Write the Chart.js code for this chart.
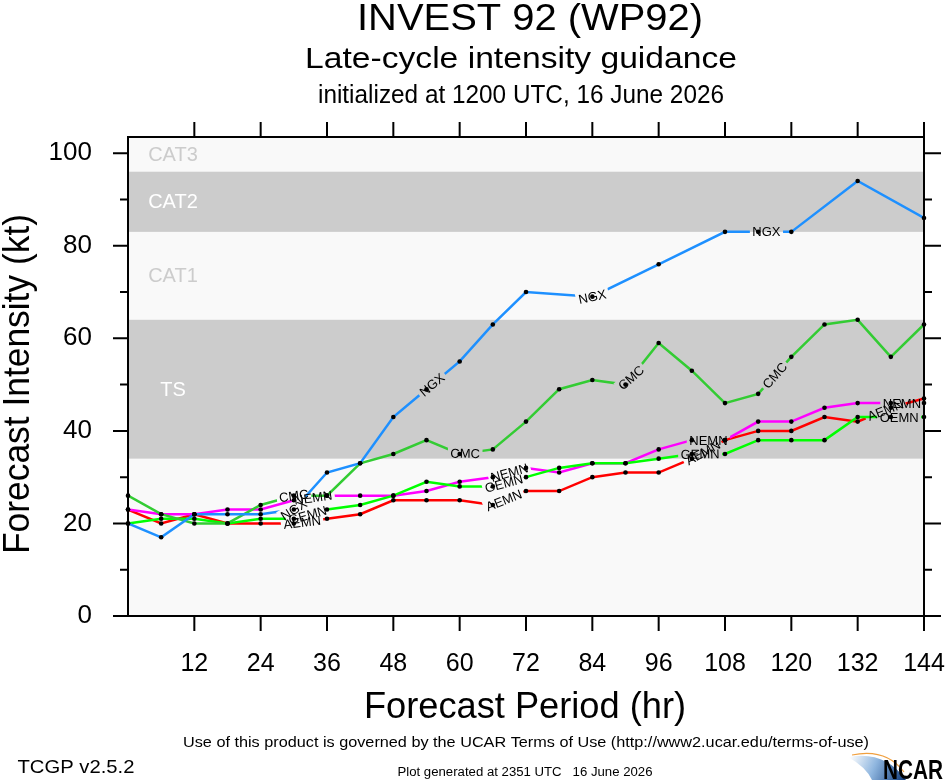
<!DOCTYPE html>
<html>
<head>
<meta charset="utf-8">
<script src="https://cdn.jsdelivr.net/npm/chart.js@4.4.1/dist/chart.umd.min.js"></script>
<style>
  html, body { margin: 0; padding: 0; background: #fff; }
  canvas { display: block; }
</style>
</head>
<body>
<canvas id="intensityChart" width="946" height="780"></canvas>
<script>
// forecast hours and intensity (kt) per model
const hours = [0, 6, 12, 18, 24, 30, 36, 42, 48, 54, 60, 66, 72, 78, 84, 90, 96, 102, 108, 114, 120, 126, 132, 138, 144];
const ngx  = [20, 17, 22, 22, 22, 23, 31, 33, 43, 49, 55, 63, 70, null, 69, null, 76, null, 83, 83, 83, null, 94, null, 86];
const cmc  = [26, 22, 20, 20, 24, 26, 26, 33, 35, 38, 35, 36, 42, 49, 51, 50, 59, 53, 46, 48, 56, 63, 64, 56, 63];
const gemn = [20, 21, 21, 20, 21, 21, 23, 24, 26, 29, 28, 28, 30, 32, 33, 33, 34, 35, 35, 38, 38, 38, 43, 43, 43];
const nemn = [23, 22, 22, 23, 23, 25, 26, 26, 26, 27, 29, 30, 32, 31, 33, 33, 36, 38, 38, 42, 42, 45, 46, 46, 46];
const aemn = [23, 20, 22, 20, 20, 20, 21, 22, 25, 25, 25, 24, 27, 27, 30, 31, 31, 34, 38, 40, 40, 43, 42, 45, 47];

// where each model name is written along its line: [hour, text]
const ngxTags  = [[30, 'NGX'], [55, 'NGX'], [84, 'NGX'], [115.5, 'NGX']];
const cmcTags  = [[30, 'CMC'], [61, 'CMC'], [91, 'CMC'], [117, 'CMC']];
const gemnTags = [[32.5, 'GEMN'], [68, 'GEMN'], [103.5, 'GEMN'], [139.5, 'OEMN']];
const nemnTags = [[33.5, 'NEMN'], [69, 'NEMN'], [105, 'NEMN'], [140, 'NEMN']];
const aemnTags = [[31.5, 'AEMN'], [68, 'AEMN'], [104, 'AEMN'], [137, 'AEMN']];

// axes and intensity categories
const xTicks = [12, 24, 36, 48, 60, 72, 84, 96, 108, 120, 132, 144];
const yTicks = [0, 20, 40, 60, 80, 100];
const yMinor = [10, 30, 50, 70, 90];
const yMax = 103.5;
const bandEdges = [34, 64, 83, 96, yMax];
const bandNames = ['TS', 'CAT1', 'CAT2', 'CAT3'];
const bandShaded = [true, false, true, false];

const FONT = '"Liberation Sans", Arial, Helvetica, sans-serif';
const TAG_FONT = '13px ' + FONT;

function toPoints(vals) {
    return hours.map((h, i) => ({ x: h, y: vals[i] }));
}

// y of the drawn polyline at pixel x
function lineYAt(pts, px) {
    if (px <= pts[0].x) return pts[0].y;
    for (let k = 0; k < pts.length - 1; k++) {
        const a = pts[k], b = pts[k + 1];
        if (px >= a.x && px <= b.x) return a.y + (b.y - a.y) * (px - a.x) / (b.x - a.x);
    }
    return pts[pts.length - 1].y;
}

function tagGeom(chart, di, h) {
    const pts = chart.getDatasetMeta(di).data.filter(p => !p.skip);
    const px = chart.scales.x.getPixelForValue(h);
    const py = lineYAt(pts, px);
    const yl = lineYAt(pts, px - 12), yr = lineYAt(pts, px + 12);
    return { x: px, y: py, ang: Math.atan2(yr - yl, 24) };
}

// bands behind the lines
const bandPlugin = {
    id: 'bands',
    beforeDatasetsDraw(chart) {
        const { ctx, chartArea: a, scales: { y } } = chart;
        ctx.save();
        ctx.fillStyle = '#f9f9f9';
        ctx.fillRect(a.left, a.top, a.right - a.left, a.bottom - a.top);
        ctx.font = '20px ' + FONT;
        ctx.textAlign = 'center';
        ctx.textBaseline = 'middle';
        for (let i = 0; i < bandNames.length; i++) {
            const y0 = y.getPixelForValue(bandEdges[i + 1]);
            const y1 = y.getPixelForValue(bandEdges[i]);
            if (bandShaded[i]) {
                ctx.fillStyle = '#cccccc';
                ctx.fillRect(a.left, y0, a.right - a.left, y1 - y0);
            }
            ctx.fillStyle = bandShaded[i] ? '#ffffff' : '#cccccc';
            ctx.fillText(bandNames[i], a.left + 45, (y0 + y1) / 2 + 1);
        }
        ctx.restore();
    }
};

// cut a gap in each line where its name goes, then write names and dots
const tagPlugin = {
    id: 'tags',
    beforeDatasetDraw(chart, args) {
        const ds = chart.data.datasets[args.index];
        const ctx = chart.ctx;
        ctx.save();
        ctx.beginPath();
        ctx.rect(0, 0, chart.width, chart.height);
        ctx.font = TAG_FONT;
        for (const [h, txt] of ds.tags) {
            const g = tagGeom(chart, args.index, h);
            const w = ctx.measureText(txt).width + 5, ht = 14;
            const c = Math.cos(g.ang), s = Math.sin(g.ang);
            const pts = [[-w / 2, -ht / 2], [w / 2, -ht / 2], [w / 2, ht / 2], [-w / 2, ht / 2]]
                .map(([u, v]) => [g.x + u * c - v * s, g.y + u * s + v * c]);
            ctx.moveTo(pts[0][0], pts[0][1]);
            for (let k = 1; k < 4; k++) ctx.lineTo(pts[k][0], pts[k][1]);
            ctx.closePath();
        }
        ctx.clip('evenodd');
    },
    afterDatasetDraw(chart) {
        chart.ctx.restore();
    },
    afterDatasetsDraw(chart) {
        const ctx = chart.ctx;
        ctx.save();
        ctx.font = TAG_FONT;
        ctx.fillStyle = '#000';
        ctx.textAlign = 'center';
        ctx.textBaseline = 'middle';
        chart.data.datasets.forEach((ds, di) => {
            for (const [h, txt] of ds.tags) {
                const g = tagGeom(chart, di, h);
                ctx.save();
                ctx.translate(g.x, g.y);
                ctx.rotate(g.ang);
                ctx.fillText(txt, 0, 1);
                ctx.restore();
            }
        });
        chart.data.datasets.forEach((ds, di) => {
            chart.getDatasetMeta(di).data.forEach(p => {
                if (p.skip) return;
                ctx.beginPath();
                ctx.arc(p.x, p.y, 2.3, 0, Math.PI * 2);
                ctx.fill();
            });
        });
        ctx.restore();
    }
};

// frame and tick marks
const framePlugin = {
    id: 'frame',
    afterDatasetsDraw(chart) {
        const { ctx, chartArea: a, scales: { x, y } } = chart;
        ctx.save();
        ctx.strokeStyle = '#000';
        ctx.lineWidth = 2;
        ctx.strokeRect(a.left, a.top, a.right - a.left, a.bottom - a.top);
        ctx.beginPath();
        yTicks.forEach(v => {
            const py = y.getPixelForValue(v);
            ctx.moveTo(a.left - 15, py); ctx.lineTo(a.left, py);
            ctx.moveTo(a.right, py); ctx.lineTo(a.right + 17, py);
        });
        yMinor.forEach(v => {
            const py = y.getPixelForValue(v);
            ctx.moveTo(a.left - 8, py); ctx.lineTo(a.left, py);
            ctx.moveTo(a.right, py); ctx.lineTo(a.right + 8, py);
        });
        xTicks.forEach(v => {
            const px = x.getPixelForValue(v);
            ctx.moveTo(px, a.bottom); ctx.lineTo(px, a.bottom + 15);
            ctx.moveTo(px, a.top); ctx.lineTo(px, a.top - 15);
        });
        ctx.stroke();
        ctx.restore();
    }
};

// draw text squeezed/stretched to a measured width
function fitText(ctx, text, cx, by, size, width, opt) {
    opt = opt || {};
    ctx.save();
    ctx.font = (opt.bold ? 'bold ' : '') + size + 'px ' + FONT;
    const w = ctx.measureText(text).width;
    ctx.translate(cx, by);
    if (opt.rot) ctx.rotate(opt.rot);
    ctx.scale(width / w, 1);
    ctx.textAlign = 'center';
    ctx.textBaseline = 'alphabetic';
    ctx.fillStyle = opt.color || '#000';
    ctx.fillText(text, 0, 0);
    ctx.restore();
}

const textPlugin = {
    id: 'texts',
    afterDraw(chart) {
        const ctx = chart.ctx;
        fitText(ctx, 'INVEST 92 (WP92)', 530, 30, 36, 346);
        fitText(ctx, 'Late-cycle intensity guidance', 521, 68, 30, 432);
        fitText(ctx, 'initialized at 1200 UTC, 16 June 2026', 521, 103, 25, 406);
        fitText(ctx, 'Forecast Intensity (kt)', 29, 384, 36, 340, { rot: -Math.PI / 2 });
        fitText(ctx, 'Forecast Period (hr)', 525, 718, 36, 322);
        fitText(ctx, 'Use of this product is governed by the UCAR Terms of Use (http://www2.ucar.edu/terms-of-use)', 526, 747, 15, 686);
        fitText(ctx, 'TCGP v2.5.2', 76, 773, 19, 117);
        fitText(ctx, 'Plot generated at 2351 UTC   16 June 2026', 525, 776, 12.5, 255);

        // NCAR logo
        ctx.save();
        const grad = ctx.createLinearGradient(850, 756, 904, 780);
        grad.addColorStop(0, '#ffffff');
        grad.addColorStop(0.45, '#8fb6df');
        grad.addColorStop(1, '#123f80');
        ctx.beginPath();
        ctx.moveTo(848, 757);
        ctx.quadraticCurveTo(885, 750, 906, 780);
        ctx.lineTo(872, 780);
        ctx.quadraticCurveTo(866, 767, 848, 757);
        ctx.fillStyle = grad;
        ctx.fill();
        ctx.beginPath();
        ctx.moveTo(852, 755);
        ctx.quadraticCurveTo(886, 748, 904, 772);
        ctx.strokeStyle = '#f0a040';
        ctx.lineWidth = 1.2;
        ctx.stroke();
        ctx.restore();
        fitText(ctx, 'NCAR', 913, 779, 27, 60, { bold: true });
    }
};

const ctx = document.getElementById('intensityChart').getContext('2d');

new Chart(ctx, {
    type: 'line',
    data: {
        datasets: [
            { label: 'NGX', data: toPoints(ngx), borderColor: '#1e90ff', tags: ngxTags },
            { label: 'CMC', data: toPoints(cmc), borderColor: '#33cc33', tags: cmcTags },
            { label: 'GEMN', data: toPoints(gemn), borderColor: '#00ff00', tags: gemnTags },
            { label: 'NEMN', data: toPoints(nemn), borderColor: '#ff00ff', tags: nemnTags },
            { label: 'AEMN', data: toPoints(aemn), borderColor: '#ff0000', tags: aemnTags }
        ].map(d => Object.assign(d, {
            borderWidth: 2.5, pointRadius: 0, fill: false, spanGaps: true, tension: 0
        }))
    },
    options: {
        responsive: false,
        animation: false,
        layout: { padding: { top: 137, right: 22, left: 0, bottom: 0 } },
        plugins: { legend: { display: false }, tooltip: { enabled: false } },
        scales: {
            x: {
                type: 'linear', min: 0, max: 144,
                afterBuildTicks: s => { s.ticks = xTicks.map(v => ({ value: v })); },
                afterFit: s => { s.height = 164; s.paddingLeft = 0; s.paddingRight = 0; },
                grid: { display: false, drawTicks: false },
                border: { display: false },
                ticks: { font: { size: 25, family: FONT }, color: '#000', padding: 33, maxRotation: 0, autoSkip: false }
            },
            y: {
                min: 0, max: yMax,
                afterBuildTicks: s => { s.ticks = yTicks.map(v => ({ value: v })); },
                afterFit: s => { s.width = 128; s.paddingTop = 0; s.paddingBottom = 0; },
                grid: { display: false, drawTicks: false },
                border: { display: false },
                ticks: { font: { size: 26, family: FONT }, color: '#000', padding: 36 }
            }
        }
    },
    plugins: [bandPlugin, tagPlugin, framePlugin, textPlugin]
});
</script>
</body>
</html>
